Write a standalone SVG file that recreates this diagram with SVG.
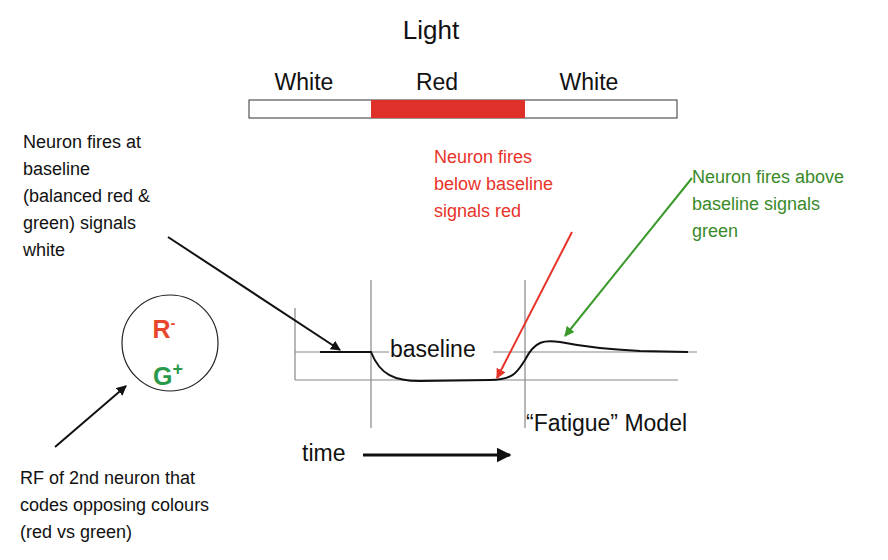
<svg xmlns="http://www.w3.org/2000/svg" width="888" height="560" viewBox="0 0 888 560">
<defs>
<style>
text{font-family:"Liberation Sans",Arial,sans-serif;font-size:19px;fill:#111}
.s{font-size:18px}
.ax{stroke:#888;stroke-width:1.2;fill:none}
</style>
<marker id="ab" viewBox="0 0 10 10" refX="9" refY="5" markerWidth="5" markerHeight="5" orient="auto"><path d="M0,0L10,5L0,10z" fill="#111"/></marker>
<marker id="ar" viewBox="0 0 10 10" refX="9" refY="5" markerWidth="5" markerHeight="5" orient="auto"><path d="M0,0L10,5L0,10z" fill="#e8332a"/></marker>
<marker id="ag" viewBox="0 0 10 10" refX="9" refY="5" markerWidth="5" markerHeight="5" orient="auto"><path d="M0,0L10,5L0,10z" fill="#3a9a2a"/></marker>
</defs>
<rect width="888" height="560" fill="#fff"/>
<g id="light">
<text x="431" y="39" text-anchor="middle" style="font-size:26px">Light</text>
<text x="304" y="90" text-anchor="middle" style="font-size:23px">White</text>
<text x="437" y="90" text-anchor="middle" style="font-size:23px">Red</text>
<text x="589" y="90" text-anchor="middle" style="font-size:23px">White</text>
<rect x="249" y="100" width="428" height="18" fill="#fff" stroke="#333" stroke-width="1"/>
<rect x="371" y="100" width="154" height="18" fill="#e0302a"/>
</g>
<g id="graph">
<path class="ax" d="M295,308V380M295,352H697M295,380H678M371,280V428M525,280V428"/>
<path d="M320,352H371C380,375 395,381 420,381L490,380C515,380 518,370 525,360C535,340 545,340 560,342C580,346 600,349 640,351L688,352" fill="none" stroke="#111" stroke-width="2"/>
<rect x="389" y="337" width="104" height="24" fill="#fff"/>
<text x="390" y="357" style="font-size:23px">baseline</text>
<text x="526" y="431" style="font-size:23px">“Fatigue” Model</text>
</g>
<g id="time">
<text x="302" y="461" style="font-size:23px">time</text>
</g>
<g id="rf">
<circle cx="170" cy="343" r="48" fill="none" stroke="#222" stroke-width="1.2"/>
<text x="164" y="338" text-anchor="middle" style="font-size:25px;font-weight:bold;fill:#e8462a">R<tspan dy="-10" style="font-size:15px">-</tspan></text>
<text x="168" y="385" text-anchor="middle" style="font-size:25px;font-weight:bold;fill:#2a9a4a">G<tspan dy="-10" style="font-size:18px">+</tspan></text>
</g>
<g id="labels">
<text class="s"><tspan x="23" y="148">Neuron fires at</tspan><tspan x="23" y="175">baseline</tspan><tspan x="23" y="202">(balanced red &amp;</tspan><tspan x="23" y="229">green) signals</tspan><tspan x="23" y="256">white</tspan></text>
<text class="s" style="fill:#e8332a"><tspan x="434" y="163">Neuron fires</tspan><tspan x="434" y="190">below baseline</tspan><tspan x="434" y="217">signals red</tspan></text>
<text class="s" style="fill:#3a8a2a"><tspan x="692" y="183">Neuron fires above</tspan><tspan x="692" y="210">baseline signals</tspan><tspan x="692" y="237">green</tspan></text>
<text class="s"><tspan x="20" y="484">RF of 2nd neuron that</tspan><tspan x="20" y="511">codes opposing colours</tspan><tspan x="20" y="538">(red vs green)</tspan></text>
</g>
<g id="connectors" fill="none" stroke-width="2">
<path d="M168,237L340,350" stroke="#111" marker-end="url(#ab)"/>
<path d="M55,447L126,386" stroke="#111" marker-end="url(#ab)"/>
<path d="M572,232L497,378" stroke="#e8332a" marker-end="url(#ar)"/>
<path d="M692,178L565,336" stroke="#3a9a2a" marker-end="url(#ag)"/>
<path d="M363,455H510" stroke="#111" stroke-width="3" marker-end="url(#ab)"/>
</g>
</svg>
